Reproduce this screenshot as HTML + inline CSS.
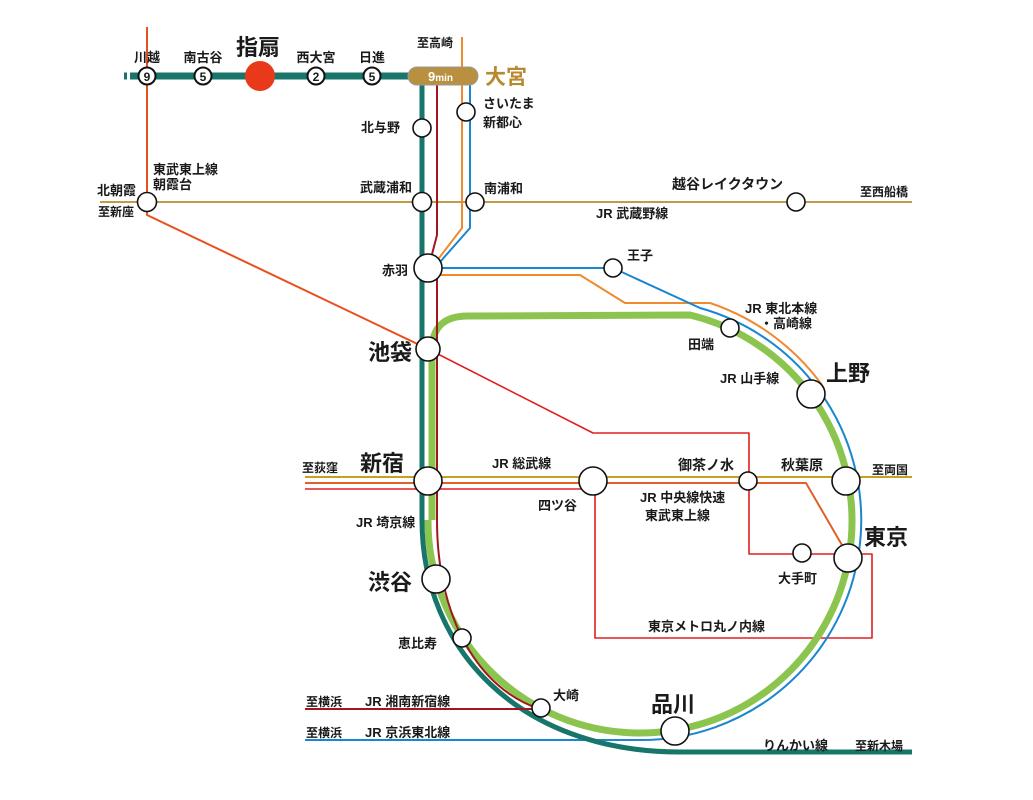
<!DOCTYPE html>
<html><head><meta charset="utf-8"><style>
html,body{margin:0;padding:0;background:#fff;}
svg{display:block;}
text{font-family:"Liberation Sans","Noto Sans CJK JP",sans-serif;font-weight:bold;fill:#1a1a1a;}
.s{font-size:13px;}
.xs{font-size:12px;}
.b{font-size:22px;font-family:"Liberation Serif","Noto Serif CJK SC",serif;font-weight:bold;}
</style></head><body>
<svg width="1033" height="800" viewBox="0 0 1033 800" xmlns="http://www.w3.org/2000/svg">
<g fill="none" stroke-linejoin="round">
<path d="M147,27 L147,215 L428,349" stroke="#e8501e" stroke-width="2"/>
<path d="M100,202 L912,202" stroke="#c49a4a" stroke-width="2"/>
<path d="M305,489 L593,489 L595,489 L595,638 L872,638 L872,554 L749,554 L749,433 L593,433 L428,349" stroke="#e02020" stroke-width="1.6"/>
<path d="M305,477 L912,477" stroke="#c8a020" stroke-width="2"/>
<path d="M305,483 L806,483 L846,552" stroke="#e0602a" stroke-width="2"/>
<path d="M462,37 L462,228 L436,262 M430,275 L580,275 L625,303 L710,303 A228,228 0 0,1 822,385" stroke="#f08a30" stroke-width="2"/>
<path d="M470,85 L470,228 L440,262 M436,268 L613,268 L700,308 A220,220 0 0,1 640,740 L305,740" stroke="#1a86cf" stroke-width="2"/>
<path d="M432,520 L432,350 Q432,316 468,316 L690,315 A212,212 0 1,1 428,520" stroke="#8cc450" stroke-width="7"/>
<path d="M422,80 L422,520 C422,650 520,752 680,752 L912,752" stroke="#17756a" stroke-width="5"/>
<path d="M437,85 L437,235 L430,262 M437,270 L437,520 C437,620 480,690 540,709 L305,709" stroke="#a0181e" stroke-width="2"/>
<path d="M130,76 L420,76" stroke="#17756a" stroke-width="7"/>
<path d="M124,76 L127,76" stroke="#17756a" stroke-width="7"/>
</g>
<rect x="408" y="67" width="70" height="18" rx="9" fill="#b89040" stroke="#9a9a9a" stroke-width="1"/>
<text x="428" y="81" style="font-size:13px;fill:#fff">9<tspan style="font-size:10px;fill:#fff">min</tspan></text>
<g stroke="#111" stroke-width="2" fill="#fff">
<circle cx="147" cy="76" r="8.5"/><circle cx="203" cy="76" r="8.5"/><circle cx="316" cy="76" r="8.5"/><circle cx="372" cy="76" r="8.5"/>
</g>
<circle cx="260" cy="76" r="15" fill="#e83a1a"/>
<g style="font-size:12px" text-anchor="middle">
<text x="147" y="81">9</text><text x="203" y="81">5</text><text x="316" y="81">2</text><text x="372" y="81">5</text>
</g>
<g stroke="#111" stroke-width="1.6" fill="#fff">
<circle cx="422" cy="128" r="9"/><circle cx="466" cy="112" r="9"/>
<circle cx="422" cy="202" r="9.5"/><circle cx="475" cy="202" r="9"/>
<circle cx="147" cy="202" r="9.5"/><circle cx="796" cy="202" r="9"/>
<circle cx="428" cy="268" r="14"/><circle cx="613" cy="268" r="9"/>
<circle cx="730" cy="328" r="9"/><circle cx="428" cy="349" r="12"/>
<circle cx="811" cy="394" r="14"/><circle cx="428" cy="481" r="14"/>
<circle cx="593" cy="481" r="14"/><circle cx="748" cy="481" r="9"/>
<circle cx="846" cy="481" r="14"/><circle cx="848" cy="558" r="14"/>
<circle cx="802" cy="553" r="9"/><circle cx="436" cy="579" r="14"/>
<circle cx="462" cy="638" r="9"/><circle cx="541" cy="708" r="9"/>
<circle cx="675" cy="731" r="14"/>
</g>
<g class="s">
<text x="147" y="62" text-anchor="middle">川越</text>
<text x="203" y="62" text-anchor="middle">南古谷</text>
<text x="316" y="62" text-anchor="middle">西大宮</text>
<text x="372" y="62" text-anchor="middle">日進</text>
<text x="483" y="108">さいたま</text>
<text x="483" y="127">新都心</text>
<text x="400" y="132" text-anchor="end">北与野</text>
<text x="153" y="174">東武東上線</text>
<text x="153" y="189">朝霞台</text>
<text x="136" y="195" text-anchor="end">北朝霞</text>
<text x="412" y="192" text-anchor="end">武蔵浦和</text>
<text x="484" y="193">南浦和</text>
<text x="672" y="189" style="font-size:14px">越谷レイクタウン</text>
<text x="596" y="218">JR 武蔵野線</text>
<text x="408" y="275" text-anchor="end">赤羽</text>
<text x="627" y="260">王子</text>
<text x="745" y="313">JR 東北本線</text>
<text x="760" y="328">・高崎線</text>
<text x="688" y="349">田端</text>
<text x="720" y="383">JR 山手線</text>
<text x="492" y="468">JR 総武線</text>
<text x="678" y="470" style="font-size:14px">御茶ノ水</text>
<text x="781" y="470" style="font-size:14px">秋葉原</text>
<text x="538" y="510">四ツ谷</text>
<text x="640" y="502">JR 中央線快速</text>
<text x="645" y="520">東武東上線</text>
<text x="356" y="527">JR 埼京線</text>
<text x="778" y="583">大手町</text>
<text x="648" y="631">東京メトロ丸ノ内線</text>
<text x="398" y="648">恵比寿</text>
<text x="553" y="700">大崎</text>
<text x="365" y="706">JR 湘南新宿線</text>
<text x="365" y="737">JR 京浜東北線</text>
<text x="763" y="750">りんかい線</text>
</g>
<g class="xs">
<text x="417" y="47">至高崎</text>
<text x="134" y="216" text-anchor="end">至新座</text>
<text x="860" y="196">至西船橋</text>
<text x="302" y="472">至荻窪</text>
<text x="872" y="474">至両国</text>
<text x="306" y="706">至横浜</text>
<text x="306" y="737">至横浜</text>
<text x="855" y="750">至新木場</text>
</g>
<g class="b">
<text x="258" y="55" text-anchor="middle">指扇</text>
<text x="485" y="84" style="fill:#b88a30;font-size:21px">大宮</text>
<text x="412" y="360" text-anchor="end">池袋</text>
<text x="826" y="381">上野</text>
<text x="360" y="471">新宿</text>
<text x="864" y="545">東京</text>
<text x="368" y="590">渋谷</text>
<text x="651" y="712">品川</text>
</g>
</svg>
</body></html>
